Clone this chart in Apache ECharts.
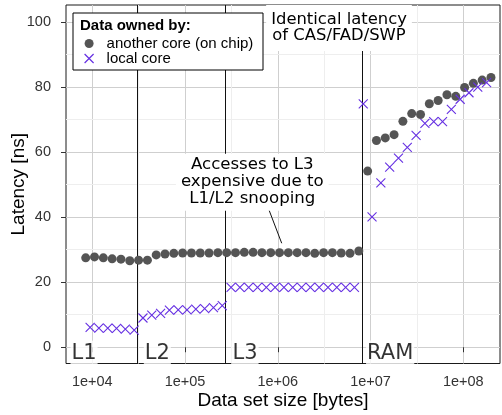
<!DOCTYPE html>
<html>
<head>
<meta charset="utf-8">
<script src="https://cdn.jsdelivr.net/npm/echarts@6/dist/echarts.min.js"></script>
<style>
  html, body { margin: 0; padding: 0; background: #fff; }
  #chart { width: 502px; height: 415px; }
</style>
</head>
<body>
<div id="chart"></div>
<script>
// Data set sizes (bytes) and latencies (ns) when the line is owned by another core on the chip
const remoteSizes = [
  8490, 10560, 13150, 16360, 20370, 25350, 31550, 39270, 48860, 60810,
  75680, 94170, 117200, 145900, 181500, 225900, 281100, 349900, 435400, 541800,
  674300, 839100, 1044000, 1299000, 1617000, 2013000, 2505000, 3117000, 3879000, 4828000,
  6008000, 7477000, 9310000, 11580000, 14420000, 17940000, 22330000, 27790000, 34580000, 43040000,
  53560000, 66660000, 82960000, 103300000, 128500000, 159900000, 199000000
];
const remoteLatency = [
  27.5, 27.8, 27.5, 27.2, 27.1, 26.6, 26.8, 26.8, 28.4, 28.7,
  28.9, 29.0, 29.0, 29.0, 29.0, 29.1, 29.1, 29.1, 29.2, 29.2,
  29.1, 29.1, 29.1, 29.1, 29.1, 29.1, 28.9, 29.1, 29.1, 29.0,
  28.9, 29.6, 54.2, 63.6, 64.4, 65.4, 69.5, 71.9, 71.6, 74.9,
  75.9, 77.7, 77.2, 79.9, 81.2, 82.2, 83.0
];

// Data set sizes (bytes) and latencies (ns) when the line is owned by the local core
const localSizes = [
  9470, 11780, 14670, 18250, 22720, 28270, 35180, 43790, 54490, 67810,
  84390, 105000, 130700, 162700, 202400, 251900, 313500, 390200, 485600, 604300,
  752100, 936100, 1165000, 1450000, 1804000, 2245000, 2794000, 3478000, 4328000, 5386000,
  6703000, 8342000, 10380000, 12920000, 16080000, 20010000, 24910000, 30990000, 38570000, 48000000,
  59740000, 74350000, 92540000, 115200000, 143300000, 178400000
];
const localLatency = [
  6.1, 5.9, 5.9, 5.8, 5.6, 5.3, 9.0, 9.9, 10.4, 11.4,
  11.5, 11.5, 11.7, 11.9, 12.2, 12.8, 18.4, 18.4, 18.4, 18.4,
  18.4, 18.4, 18.4, 18.4, 18.4, 18.4, 18.4, 18.4, 18.4, 18.4,
  18.4, 74.9, 40.1, 50.6, 55.4, 58.2, 61.5, 65.2, 68.9, 69.4,
  69.4, 73.2, 76.3, 78.3, 80.0, 81.4
];

// Axis ticks and grid helpers
const xTicks = [1e4, 1e5, 1e6, 1e7, 1e8];
const xMinorTicks = [31623, 316228, 3162278, 31622777];
const yTicks = [0, 20, 40, 60, 80, 100];
const yMinorTicks = [10, 30, 50, 70, 90];

// Cache level boundaries and their labels
const levelBounds = [30870, 274400, 8150000];
const levelNames = ['L1', 'L2', 'L3', 'RAM'];
const levelLabelSizes = [5751, 35480, 313000, 8835000];
const levelLabelLatency = -1.8;

// Annotations
const noteSnoop = 'Accesses to L3\nexpensive due to\nL1/L2 snooping';
const noteSnoopAt = [531000, 50.8];
const noteSnoopArrow = [[790000, 42.8], [1102000, 32.0]];
const noteAtomic = 'Identical latency\nof CAS/FAD/SWP';
const noteAtomicAt = [4571000, 98.2];

const seriesNames = ['another core (on chip)', 'local core'];

const GREY = '#555555';
const PURPLE = '#6630e2';
const CROSS = 'path://M0,0L10,10M10,0L0,10';
const SANS = '"Liberation Sans", Arial, sans-serif';
const DEJAVU = '"DejaVu Sans", sans-serif';

const zip = (xs, ys) => xs.map((x, i) => [x, ys[i]]);
const expLabel = v => '1e+' + String(Math.round(Math.log10(v))).padStart(2, '0');

const chart = echarts.init(document.getElementById('chart'), null, { renderer: 'canvas' });

const noteLabel = (text, size, lh, pad) => ({
  show: true, formatter: text, position: 'inside',
  fontFamily: DEJAVU, fontSize: size, lineHeight: lh, color: '#000', opacity: 1,
  align: 'center', verticalAlign: 'middle',
  backgroundColor: '#ffffff', padding: pad
});

chart.setOption({
  animation: false,
  backgroundColor: '#ffffff',
  grid: {
    left: 66, right: 2, top: 5, bottom: 51.5,
    containLabel: false, outerBoundsMode: 'none',
    show: true, borderColor: '#1a1a1a', borderWidth: 1, backgroundColor: '#ffffff'
  },
  xAxis: {
    type: 'log', logBase: 10,
    min: 5205, max: 248800000,
    name: 'Data set size [bytes]',
    nameLocation: 'middle', nameGap: 28, nameMoveOverlap: false,
    nameTextStyle: { fontFamily: SANS, fontSize: 19, color: '#000' },
    axisLine: { show: false },
    axisTick: { show: true, length: 5, customValues: xTicks, lineStyle: { color: '#333', width: 1 } },
    axisLabel: { customValues: xTicks, formatter: expLabel, fontFamily: SANS, fontSize: 14.5, color: '#333', margin: 11 },
    splitLine: { show: true, lineStyle: { color: '#cfcfcf', width: 1 } },
    minorTick: { show: false }
  },
  yAxis: {
    type: 'value',
    min: -5, max: 105.3,
    name: 'Latency [ns]',
    nameLocation: 'middle', nameGap: 38, nameMoveOverlap: false,
    nameTextStyle: { fontFamily: SANS, fontSize: 19, color: '#000' },
    axisLine: { show: false },
    axisTick: { show: true, length: 5, customValues: yTicks, lineStyle: { color: '#333', width: 1 } },
    axisLabel: { customValues: yTicks, fontFamily: SANS, fontSize: 14.5, color: '#333', margin: 15 },
    splitLine: { show: true, lineStyle: { color: '#cfcfcf', width: 1 } }
  },
  legend: {
    data: [
      { name: seriesNames[0] },
      { name: seriesNames[1], itemStyle: { borderWidth: 1.2 } }
    ],
    orient: 'vertical',
    left: 84, top: 36,
    padding: 0, itemGap: 0,
    itemWidth: 25, itemHeight: 9,
    textStyle: { fontFamily: SANS, fontSize: 15, color: '#000' },
    selectedMode: false,
    z: 8
  },
  graphic: [
    { type: 'rect', z: 7, shape: { x: 73, y: 13, width: 190, height: 57 },
      style: { fill: '#fff', stroke: '#000', lineWidth: 1 } },
    { type: 'text', z: 9, x: 80, y: 26,
      style: { text: 'Data owned by:', font: 'bold 15px "Liberation Sans", Arial, sans-serif',
               fill: '#000', textVerticalAlign: 'middle' } }
  ],
  series: [
    {
      // minor grid lines
      name: 'minor-grid', type: 'scatter', data: [], z: 1, silent: true,
      markLine: {
        z: 1, silent: true, symbol: ['none', 'none'], label: { show: false },
        lineStyle: { type: 'solid', color: '#eeeeee', width: 1 },
        data: xMinorTicks.map(v => ({ xAxis: v })).concat(yMinorTicks.map(v => ({ yAxis: v })))
      }
    },
    {
      // cache level boundaries and annotation pointer
      name: 'levels', type: 'scatter', data: [], z: 2, silent: true,
      markLine: {
        z: 2, silent: true, symbol: ['none', 'none'], label: { show: false },
        lineStyle: { type: 'solid', color: '#111', width: 1 },
        data: levelBounds.map(v => ({ xAxis: v })).concat([
          [{ coord: noteSnoopArrow[0] }, { coord: noteSnoopArrow[1] }]
        ])
      }
    },
    {
      name: seriesNames[0], type: 'scatter', z: 4,
      symbol: 'circle', symbolSize: 9,
      itemStyle: { color: GREY, opacity: 1 },
      data: zip(remoteSizes, remoteLatency)
    },
    {
      name: seriesNames[1], type: 'scatter', z: 4,
      symbol: CROSS, symbolSize: 9,
      itemStyle: { color: PURPLE, borderColor: PURPLE, borderWidth: 1.1, opacity: 1 },
      data: zip(localSizes, localLatency)
    },
    {
      // text annotations on white boxes
      name: 'notes', type: 'scatter', z: 5, silent: true,
      symbolSize: 1, itemStyle: { color: 'rgba(255,255,255,0)' },
      data: levelNames.map((n, i) => ({
        value: [levelLabelSizes[i], levelLabelLatency],
        label: {
          show: true, formatter: n, position: 'right', distance: 0,
          fontFamily: DEJAVU, fontSize: 21, color: '#000',
          backgroundColor: '#ffffff', padding: [3, 1, 1, 1], verticalAlign: 'middle'
        }
      })).concat([
        { value: noteSnoopAt, label: noteLabel(noteSnoop, 16.6, 17, [2, 5, 4, 5]) },
        { value: noteAtomicAt, label: noteLabel(noteAtomic, 16.4, 16, [4, 5, 10, 5]) }
      ])
    }
  ]
});
</script>
</body>
</html>
